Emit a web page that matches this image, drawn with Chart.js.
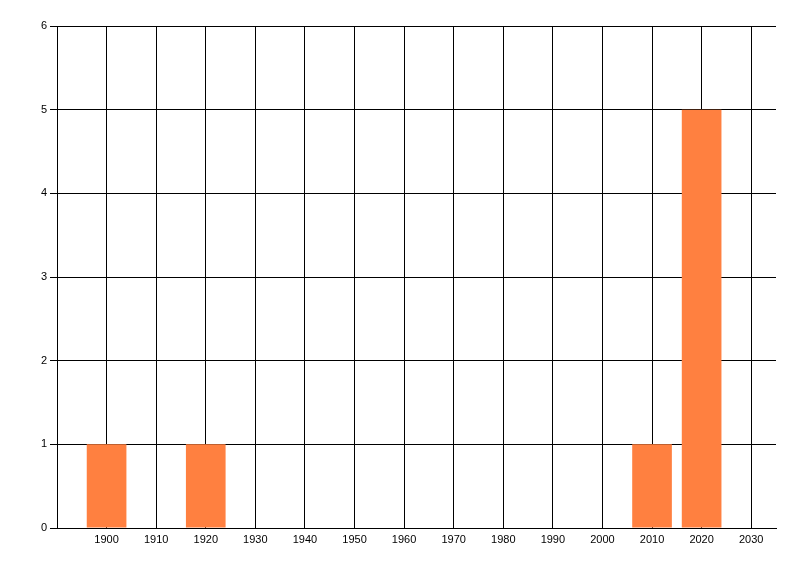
<!DOCTYPE html>
<html>
<head>
<meta charset="utf-8">
<script src="https://cdn.jsdelivr.net/npm/chart.js@4"></script>
<style>
  html, body { margin: 0; padding: 0; background: #fff; }
  #wrap { width: 800px; height: 576px; }
</style>
</head>
<body>
<div id="wrap"><canvas id="myChart" width="800" height="576"></canvas></div>
<script>
const years = [1900, 1920, 2010, 2020];
const counts = [1, 1, 1, 5];
const xTicks = [1900, 1910, 1920, 1930, 1940, 1950, 1960, 1970, 1980, 1990, 2000, 2010, 2020, 2030];
const yTicks = [0, 1, 2, 3, 4, 5, 6];

const ctx = document.getElementById('myChart');

new Chart(ctx, {
  type: 'bar',
  data: {
    datasets: [{
      data: years.map((y, i) => ({ x: y, y: counts[i] })),
      backgroundColor: 'rgb(255, 128, 64)',
      borderWidth: 0,
      categoryPercentage: 0.8,
      barPercentage: 1.0
    }]
  },
  options: {
    responsive: false,
    animation: false,
    devicePixelRatio: 1,
    layout: { padding: { top: 26, right: 24, left: 0, bottom: 0 } },
    plugins: { legend: { display: false }, tooltip: { enabled: false } },
    scales: {
      x: {
        type: 'linear',
        offset: false,
        min: 1890,
        max: 2035,
        afterBuildTicks: (scale) => {
          scale.ticks = xTicks.map(v => ({ value: v }));
        },
        afterFit: (scale) => { scale.height = 48; },
        ticks: {
          color: '#000',
          padding: 5,
          maxRotation: 0,
          autoSkip: false,
          font: { family: 'Liberation Sans', size: 11 },
          callback: (v) => String(v)
        },
        grid: { color: '#000', lineWidth: 1, drawTicks: false, offset: false },
        border: { display: true, color: '#000', width: 1 }
      },
      y: {
        min: 0,
        max: 6,
        afterBuildTicks: (scale) => {
          scale.ticks = yTicks.map(v => ({ value: v }));
        },
        afterFit: (scale) => { scale.width = 57; },
        ticks: {
          color: '#000',
          padding: 3,
          font: { family: 'Liberation Sans', size: 11 }
        },
        grid: { color: '#000', lineWidth: 1, drawTicks: true, tickLength: 7 },
        border: { display: true, color: '#000', width: 1 }
      }
    }
  }
});
</script>
</body>
</html>
